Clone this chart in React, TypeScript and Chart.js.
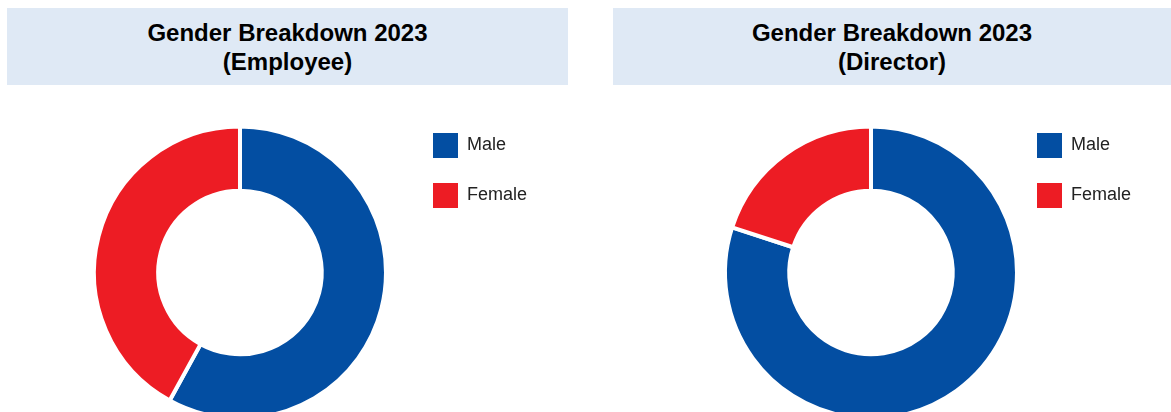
import React, { useEffect, useRef } from "react";
import { Chart, registerables } from "chart.js";

Chart.register(...registerables);

const categories = ["Male", "Female"];
const employeeValues = [58, 42];
const directorValues = [80, 20];
const titlesEmployee = ["Gender Breakdown 2023", "(Employee)"];
const titlesDirector = ["Gender Breakdown 2023", "(Director)"];
const sliceColors = ["#034EA2", "#ED1C24"];

const FONT = "'Liberation Sans', Arial, Helvetica, sans-serif";

type DonutProps = {
  values: number[];
  left: number;
  width: number;
  padLeft: number;
};

function Donut({ values, left, width, padLeft }: DonutProps) {
  const ref = useRef<HTMLCanvasElement | null>(null);
  useEffect(() => {
    if (!ref.current) return;
    const defaultGen = (Chart as any).overrides.doughnut.plugins.legend.labels.generateLabels;
    const chart = new Chart(ref.current, {
      type: "doughnut",
      data: {
        labels: categories,
        datasets: [
          {
            data: values,
            backgroundColor: sliceColors,
            borderColor: "#ffffff",
            borderWidth: 4,
            hoverOffset: 0,
          },
        ],
      },
      options: {
        responsive: false,
        maintainAspectRatio: false,
        animation: false,
        radius: 146,
        cutout: "56%",
        layout: { padding: { left: padLeft, top: 18, right: 0, bottom: 0 } },
        plugins: {
          legend: {
            position: "right",
            align: "start",
            labels: {
              boxWidth: 25,
              boxHeight: 25,
              padding: 25,
              color: "#222222",
              font: { family: FONT, size: 18 },
              generateLabels: (c: any) =>
                defaultGen(c).map((item: any) => ({ ...item, lineWidth: 0, strokeStyle: item.fillStyle })),
            },
          },
          tooltip: { enabled: false },
          title: { display: false },
        },
      },
    });
    return () => chart.destroy();
  }, [values, padLeft]);
  return (
    <canvas
      ref={ref}
      width={width}
      height={347}
      style={{ position: "absolute", left, top: 90, width, height: 347 }}
    />
  );
}

function Header({ lines, left, width }: { lines: string[]; left: number; width: number }) {
  return (
    <div
      style={{
        position: "absolute",
        left,
        top: 8,
        width,
        height: 77,
        background: "#DFE9F5",
        display: "flex",
        flexDirection: "column",
        alignItems: "center",
        justifyContent: "center",
        fontFamily: FONT,
        fontWeight: "bold",
        fontSize: 24,
        lineHeight: "29px",
        color: "#000",
        textAlign: "center",
      }}
    >
      {lines.map((l, i) => (
        <div key={i}>{l}</div>
      ))}
    </div>
  );
}

export default function App() {
  return (
    <div
      style={{
        position: "absolute",
        left: 0,
        top: 0,
        width: 1171,
        height: 412,
        overflow: "hidden",
        background: "#fff",
      }}
    >
      <Header lines={titlesEmployee} left={7} width={561} />
      <Header lines={titlesDirector} left={613} width={558} />
      <Donut values={employeeValues} left={0} width={537} padLeft={72} />
      <Donut values={directorValues} left={600} width={541} padLeft={130} />
    </div>
  );
}
